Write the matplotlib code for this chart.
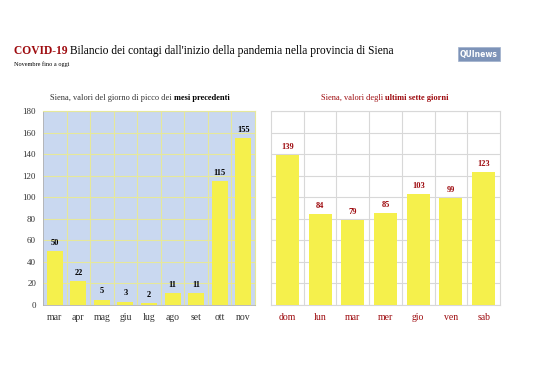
import matplotlib
matplotlib.use('Agg')
import matplotlib.pyplot as plt
import numpy as np

plt.rcParams['font.family'] = ['Liberation Serif', 'DejaVu Serif']

# data
months = ['mar', 'apr', 'mag', 'giu', 'lug', 'ago', 'set', 'ott', 'nov']
month_peaks = [50, 22, 5, 3, 2, 11, 11, 115, 155]
days = ['dom', 'lun', 'mar', 'mer', 'gio', 'ven', 'sab']
day_values = [139, 84, 79, 85, 103, 99, 123]
y_ticks = [0, 20, 40, 60, 80, 100, 120, 140, 160, 180]

YELLOW = '#f5f04c'
DARKRED = '#9e0b0f'
BLUE_BG = '#c9d8f0'

fig = plt.figure(figsize=(5.38, 3.8), dpi=100)
W, H = 538, 380


def pieces(x, y, parts, size, ha_center=False):
    # draw consecutive text pieces (text, weight, color) on one line
    renderer = fig.canvas.get_renderer()
    objs = []
    for txt, weight, color in parts:
        objs.append(fig.text(0, 0, txt, fontsize=size, fontweight=weight, color=color,
                             va='baseline', ha='left'))
    widths = [o.get_window_extent(renderer).width for o in objs]
    total = sum(widths)
    cur = x - total / 2 if ha_center else x
    for o, w in zip(objs, widths):
        o.set_position((cur / W, 1 - y / H))
        cur += w


pieces(14, 54, [('COVID-19 ', 'bold', DARKRED),
                ('Bilancio dei contagi dall\'inizio della pandemia nella provincia di Siena', 'normal', 'black')], 8.3)
fig.text(14 / W, 1 - 66 / H, 'Novembre fino a oggi', fontsize=4.5, color='black')

# logo
fig.text(479 / W, 1 - 54 / H, 'QUInews', fontsize=5.5, fontweight='bold', color='white',
         ha='center', va='center', family='DejaVu Sans',
         bbox=dict(boxstyle='square,pad=0.3', fc='#7d93b8', ec='#9fb0cc', lw=0.5))

pieces(140, 100, [('Siena, valori del giorno di picco dei ', 'normal', '#333333'),
                  ('mesi precedenti', 'bold', 'black')], 6, ha_center=True)
pieces(385, 100, [('Siena, valori degli ', 'normal', DARKRED),
                  ('ultimi sette giorni', 'bold', DARKRED)], 6, ha_center=True)

# left chart
ax1 = fig.add_axes([43 / W, 1 - 305 / H, 212 / W, 194 / H])
x1 = np.arange(len(months))
ax1.set_facecolor(BLUE_BG)
ax1.bar(x1, month_peaks, width=0.68, color=YELLOW, zorder=3)
ax1.set_xlim(-0.5, len(months) - 0.5)
ax1.set_ylim(0, 180)
ax1.set_yticks(y_ticks)
ax1.set_xticks(x1)
ax1.set_xticklabels(months, color='#333333')
ax1.set_yticklabels(y_ticks, color='#333333')
ax1.set_xticks(x1[:-1] + 0.5, minor=True)
ax1.grid(True, axis='y', color='#e6e89a', lw=0.8, zorder=1)
ax1.grid(True, axis='x', which='minor', color='#e6e89a', lw=0.8, zorder=1)
ax1.tick_params(axis='both', which='both', length=0, labelsize=6.5, pad=5)
ax1.tick_params(axis='x', labelsize=7, pad=6)
for s in ['top', 'right']:
    ax1.spines[s].set_color('#e6e89a')
for s in ['left', 'bottom']:
    ax1.spines[s].set_color('#b0b0b0')
    ax1.spines[s].set_linewidth(0.6)
for xi, v in zip(x1, month_peaks):
    ax1.text(xi, v + 4, str(v), ha='center', va='bottom', fontsize=6, fontweight='bold', color='black')

# right chart
ax2 = fig.add_axes([271 / W, 1 - 305 / H, 229 / W, 194 / H])
x2 = np.arange(len(days))
ax2.bar(x2, day_values, width=0.7, color=YELLOW, zorder=3)
ax2.set_xlim(-0.5, len(days) - 0.5)
ax2.set_ylim(0, 180)
ax2.set_yticks(y_ticks)
ax2.set_yticklabels([])
ax2.set_xticks(x2)
ax2.set_xticklabels(days, color=DARKRED)
ax2.set_xticks(x2[:-1] + 0.5, minor=True)
ax2.grid(True, axis='y', color='#d8d8d8', lw=0.8, zorder=1)
ax2.grid(True, axis='x', which='minor', color='#d8d8d8', lw=0.8, zorder=1)
ax2.tick_params(axis='both', which='both', length=0, labelsize=7)
ax2.tick_params(axis='x', pad=6)
for s in ax2.spines.values():
    s.set_color('#d8d8d8')
    s.set_linewidth(0.8)
for xi, v in zip(x2, day_values):
    ax2.text(xi, v + 4, str(v), ha='center', va='bottom', fontsize=6, fontweight='bold', color=DARKRED)

fig.savefig('out.png', dpi=100)
